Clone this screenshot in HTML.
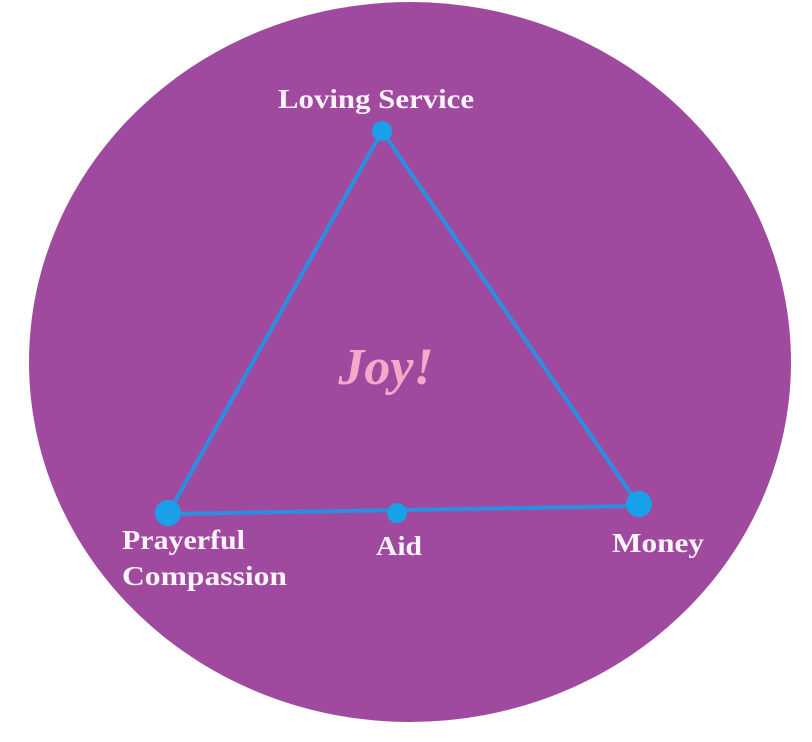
<!DOCTYPE html>
<html><head><meta charset="utf-8"><style>
html,body{margin:0;padding:0;background:#fff;width:812px;height:742px;overflow:hidden}
text{font-family:"Liberation Serif",serif;fill:#fbf3fb;font-weight:bold}
</style></head><body>
<svg width="812" height="742" viewBox="0 0 812 742">
<ellipse cx="410" cy="362" rx="381" ry="360" fill="#a04a9f"/>
<g stroke="#2a8fe0" stroke-width="4" fill="none">
<line x1="382" y1="131" x2="168" y2="514"/>
<line x1="382" y1="131" x2="638" y2="504"/>
<line x1="168" y1="514" x2="638" y2="506"/>
</g>
<g fill="#1aa0e8">
<circle cx="382" cy="131" r="10"/>
<circle cx="168" cy="513" r="13"/>
<circle cx="639" cy="504" r="13"/>
<circle cx="397" cy="513" r="10"/>
</g>
<text x="376" y="108" font-size="27" text-anchor="middle" textLength="196" lengthAdjust="spacingAndGlyphs">Loving Service</text>
<text x="386" y="384" font-size="52" text-anchor="middle" font-style="italic" style="fill:#f5a8ca">Joy!</text>
<text x="122" y="549" font-size="27" textLength="123" lengthAdjust="spacingAndGlyphs">Prayerful</text>
<text x="122" y="585" font-size="27" textLength="165" lengthAdjust="spacingAndGlyphs">Compassion</text>
<text x="399" y="555" font-size="27" text-anchor="middle" textLength="46" lengthAdjust="spacingAndGlyphs">Aid</text>
<text x="612" y="552" font-size="27" textLength="92" lengthAdjust="spacingAndGlyphs">Money</text>
</svg>
</body></html>
